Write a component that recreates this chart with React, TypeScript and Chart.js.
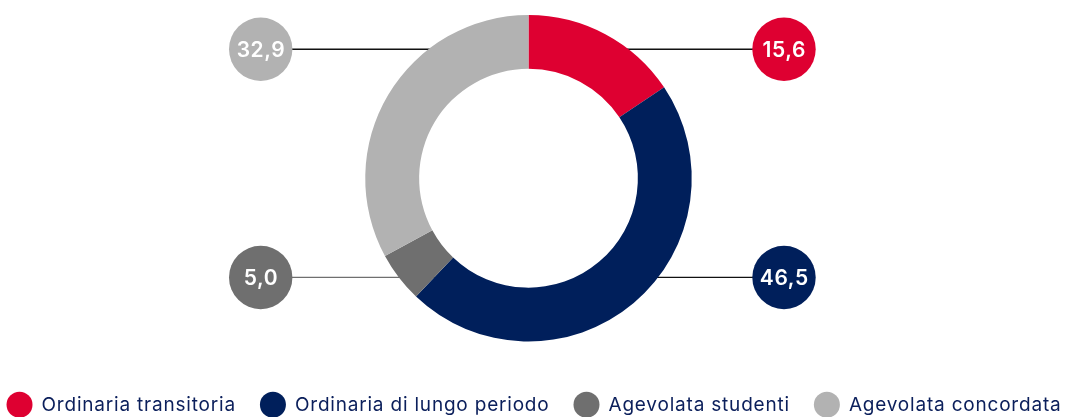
import React, { useEffect, useRef } from 'react';
import { Chart, registerables } from 'chart.js';

Chart.register(...registerables);

const categories = ['Ordinaria transitoria', 'Ordinaria di lungo periodo', 'Agevolata studenti', 'Agevolata concordata'];
const values = [15.6, 46.5, 5.0, 32.9];
const colors = ['#DE0031', '#001F5B', '#6F6F6F', '#B2B2B2'];
const lineColors = ['#111111', '#111111', '#6F6F6F', '#111111'];
const calloutSide = [1, 1, -1, -1];
const calloutRow = ['top', 'bottom', 'bottom', 'top'];

const FONT = 'Inter, "Noto Sans", sans-serif';
const TEXT_COLOR = '#0B1F5B';

const calloutPlugin = {
  id: 'callouts',
  beforeDatasetsDraw(chart: any) {
    const arc = chart.getDatasetMeta(0).data[0];
    if (!arc) return;
    const { x: cx, y: cy, outerRadius: ro, innerRadius: ri } = arc;
    const rm = (ro + ri) / 2;
    const ctx = chart.ctx;
    ctx.save();
    values.forEach((_, i) => {
      const side = calloutSide[i];
      const dy = calloutRow[i] === 'top' ? -129 : 99.2;
      const px = cx + (side > 0 ? 255.5 : -267.8);
      const py = cy + dy;
      const xEnd = Math.abs(dy) < rm ? cx + side * Math.sqrt(rm * rm - dy * dy) : cx;
      ctx.beginPath();
      ctx.strokeStyle = lineColors[i];
      ctx.lineWidth = 1.3;
      ctx.moveTo(px - side * 31, py);
      ctx.lineTo(xEnd, py);
      ctx.stroke();
    });
    ctx.restore();
  },
  afterDatasetsDraw(chart: any) {
    const arc = chart.getDatasetMeta(0).data[0];
    if (!arc) return;
    const { x: cx, y: cy } = arc;
    const ctx = chart.ctx;
    ctx.save();
    values.forEach((v, i) => {
      const side = calloutSide[i];
      const dy = calloutRow[i] === 'top' ? -129 : 99.2;
      const px = cx + (side > 0 ? 255.5 : -267.8);
      const py = cy + dy;
      ctx.beginPath();
      ctx.fillStyle = colors[i];
      ctx.arc(px, py, 31.7, 0, Math.PI * 2);
      ctx.fill();
      ctx.fillStyle = '#FFFFFF';
      ctx.font = `600 21px ${FONT}`;
      try { (ctx as any).letterSpacing = '0.6px'; } catch (e) {}
      ctx.textAlign = 'center';
      ctx.textBaseline = 'middle';
      ctx.fillText(v.toFixed(1).replace('.', ','), px + 0.3, py + 1);
    });
    ctx.restore();
  },
  afterDraw(chart: any) {
    const ctx = chart.ctx;
    const labels: string[] = chart.data.labels;
    const ds = chart.data.datasets[0];
    ctx.save();
    ctx.font = `400 19px ${FONT}`;
    try { (ctx as any).letterSpacing = '0.8px'; } catch (e) {}
    const d = 26;
    const textGap = 9;
    const itemGap = 24;
    const widths = labels.map((l) => d + textGap + ctx.measureText(l).width);
    const total = widths.reduce((a, b) => a + b, 0) + itemGap * (labels.length - 1);
    let x = chart.width / 2 - 2.5 - total / 2;
    const y = 404.7;
    labels.forEach((l, i) => {
      ctx.beginPath();
      ctx.fillStyle = ds.backgroundColor[i];
      ctx.arc(x + d / 2, y, d / 2, 0, Math.PI * 2);
      ctx.fill();
      ctx.fillStyle = TEXT_COLOR;
      ctx.textAlign = 'left';
      ctx.textBaseline = 'middle';
      ctx.fillText(l, x + d + textGap, y + 1);
      x += widths[i] + itemGap;
    });
    ctx.restore();
  },
};

export default function App() {
  const ref = useRef<HTMLCanvasElement | null>(null);
  useEffect(() => {
    if (!ref.current) return;
    const chart = new Chart(ref.current, {
      type: 'doughnut',
      data: {
        labels: categories,
        datasets: [
          {
            data: values,
            backgroundColor: colors,
            borderWidth: 0,
            hoverOffset: 0,
          },
        ],
      },
      options: {
        animation: false,
        responsive: true,
        maintainAspectRatio: false,
        cutout: '67%',
        layout: { padding: { top: 15, right: 16, bottom: 75.5, left: 0 } },
        plugins: {
          legend: { display: false },
          tooltip: { enabled: false },
        },
      },
      plugins: [calloutPlugin],
    });
    return () => chart.destroy();
  }, []);
  return (
    <div style={{ position: 'fixed', left: 0, top: 0, width: 1073, height: 417, background: '#fff' }}>
      <canvas ref={ref} />
    </div>
  );
}
